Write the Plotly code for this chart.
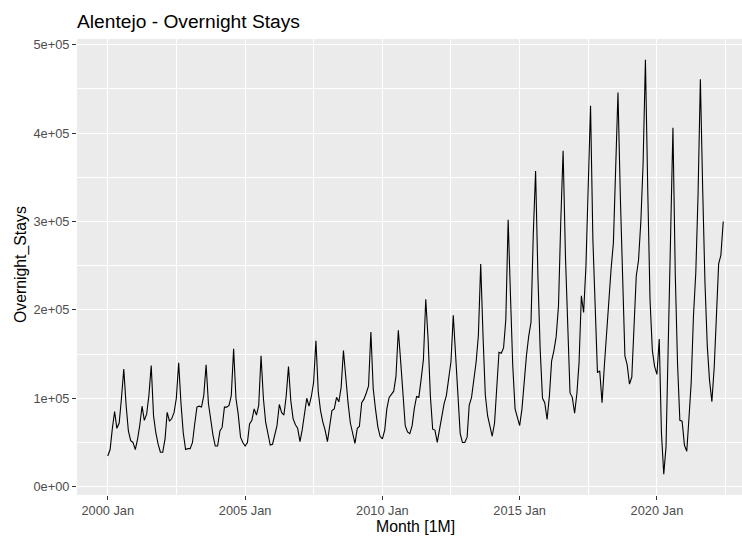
import pandas as pd
import plotly.graph_objects as go

# Monthly overnight stays, Alentejo
y2000 = [34700, 42000, 65000, 85000, 66000, 72000, 100000, 133000, 92000, 63000, 52000, 50000]
y2001 = [42000, 54000, 69000, 91000, 75000, 82000, 103000, 137000, 80000, 61000, 48000, 39000]
y2002 = [39000, 54000, 84000, 74000, 77000, 84000, 100000, 140000, 94000, 61000, 42000, 43000]
y2003 = [43000, 50000, 70000, 90000, 91000, 90000, 103000, 138000, 94000, 73000, 58000, 46000]
y2004 = [46000, 63000, 67000, 90000, 90000, 92000, 103000, 156000, 100000, 82000, 56000, 50000]
y2005 = [46000, 50000, 71000, 75000, 88000, 81000, 92000, 148000, 100000, 73000, 60000, 47000]
y2006 = [48000, 59000, 69000, 93000, 84000, 81000, 102000, 136000, 97000, 77000, 70000, 66000]
y2007 = [51000, 65000, 82000, 100000, 91000, 102000, 118000, 165000, 107000, 86000, 73000, 64000]
y2008 = [51000, 71000, 86000, 88000, 101000, 96000, 112000, 154000, 122000, 95000, 72000, 62000]
y2009 = [49000, 66000, 68000, 95000, 99000, 106000, 114000, 175000, 111000, 88000, 68000, 57000]
y2010 = [54000, 64000, 88000, 101000, 104000, 108000, 125000, 177000, 142000, 106000, 69000, 62000]
y2011 = [60000, 69000, 88000, 102000, 101000, 122000, 144000, 212000, 167000, 103000, 65000, 64000]
y2012 = [50000, 65000, 80000, 94000, 103000, 122000, 141000, 194000, 144000, 97000, 60000, 50000]
y2013 = [50000, 56000, 92000, 101000, 122000, 141000, 171000, 252000, 170000, 104000, 80000, 70000]
y2014 = [57000, 72000, 110000, 152000, 151000, 157000, 189000, 302000, 216000, 137000, 88000, 80000]
y2015 = [69000, 88000, 118000, 148000, 170000, 186000, 285000, 357000, 238000, 155000, 100000, 95000]
y2016 = [76000, 103000, 142000, 154000, 170000, 205000, 300000, 380000, 261000, 178000, 106000, 101000]
y2017 = [83000, 106000, 140000, 216000, 197000, 250000, 348000, 431000, 280000, 197000, 129000, 131000]
y2018 = [95000, 137000, 174000, 208000, 246000, 276000, 374000, 446000, 329000, 231000, 148000, 138000]
y2019 = [116000, 124000, 180000, 238000, 256000, 300000, 365000, 483000, 336000, 212000, 154000, 136000]
y2020 = [127000, 167000, 61000, 14000, 45000, 160000, 290000, 406000, 240000, 140000, 75000, 74000]
y2021 = [47000, 40000, 76000, 118000, 193000, 242000, 330000, 461000, 336000, 231000, 159000, 120000]
y2022 = [96000, 135000, 190000, 252000, 262000, 300000]

values = (y2000 + y2001 + y2002 + y2003 + y2004 + y2005 + y2006 + y2007 + y2008 + y2009
          + y2010 + y2011 + y2012 + y2013 + y2014 + y2015 + y2016 + y2017 + y2018 + y2019
          + y2020 + y2021 + y2022)
months = pd.date_range("2000-01-01", periods=len(values), freq="MS")

x_tick_vals = ["2000-01-01", "2005-01-01", "2010-01-01", "2015-01-01", "2020-01-01"]
x_tick_text = ["2000 Jan", "2005 Jan", "2010 Jan", "2015 Jan", "2020 Jan"]
x_minor_vals = ["2002-07-01", "2007-07-01", "2012-07-01", "2017-07-01", "2022-07-01"]
y_tick_vals = [0, 100000, 200000, 300000, 400000, 500000]
y_tick_text = ["0e+00", "1e+05", "2e+05", "3e+05", "4e+05", "5e+05"]
y_minor_vals = [50000, 150000, 250000, 350000, 450000]

FONT = "Liberation Sans, Arial, sans-serif"

# ggplot-like 5% expansion
x0, x1 = months[0], months[-1]
span = x1 - x0
dx = span * 0.05
full_left = x0 - dx
full_width = span + 2 * dx
x_range = [full_left, full_left + full_width * (665 / 677)]
ymin, ymax = min(values), max(values)
dy = (ymax - ymin) * 0.05
y_range = [ymin - dy, ymax + dy]

fig = go.Figure()
fig.add_trace(go.Scatter(x=months, y=values, mode="lines",
                         line=dict(color="black", width=1.1), showlegend=False))

fig.update_layout(
    width=742, height=536,
    margin=dict(l=77, r=0, t=39, b=41),
    paper_bgcolor="white", plot_bgcolor="#EBEBEB",
    font=dict(family=FONT, color="black"),
    title=dict(text="Alentejo - Overnight Stays", x=0, xref="paper", xanchor="left",
               y=1 - 21 / 536, yref="container", yanchor="middle",
               font=dict(size=19.2, family=FONT, color="black")),
    xaxis=dict(type="date", range=x_range, tickvals=x_tick_vals, ticktext=x_tick_text,
               showgrid=True, gridcolor="white", gridwidth=1.3, zeroline=False,
               ticks="outside", ticklen=4, tickwidth=1.1, tickcolor="#333333",
               tickfont=dict(size=12.8, color="#4D4D4D", family=FONT),
               minor=dict(tickvals=x_minor_vals, showgrid=True, gridcolor="white",
                          gridwidth=0.6, ticks=""),
               showline=False),
    yaxis=dict(range=y_range, tickvals=y_tick_vals, ticktext=y_tick_text,
               showgrid=True, gridcolor="white", gridwidth=1.3, zeroline=False,
               ticks="outside", ticklen=4, tickwidth=1.1, tickcolor="#333333",
               tickfont=dict(size=12.8, color="#4D4D4D", family=FONT),
               minor=dict(tickvals=y_minor_vals, showgrid=True, gridcolor="white",
                          gridwidth=0.6, ticks=""),
               showline=False),
    annotations=[
        dict(text="Month [1M]", xref="paper", yref="paper",
             x=(415.4 - 77) / 665, y=-(528 - 497) / 456, xanchor="center", yanchor="middle",
             showarrow=False, font=dict(size=15.8, family=FONT, color="black")),
        dict(text="Overnight_Stays", xref="paper", yref="paper",
             x=-(77 - 21) / 665, y=(497 - 267) / 456, xanchor="center", yanchor="middle",
             textangle=-90, showarrow=False, font=dict(size=15.8, family=FONT, color="black")),
    ],
)

fig.write_html("out.html")
